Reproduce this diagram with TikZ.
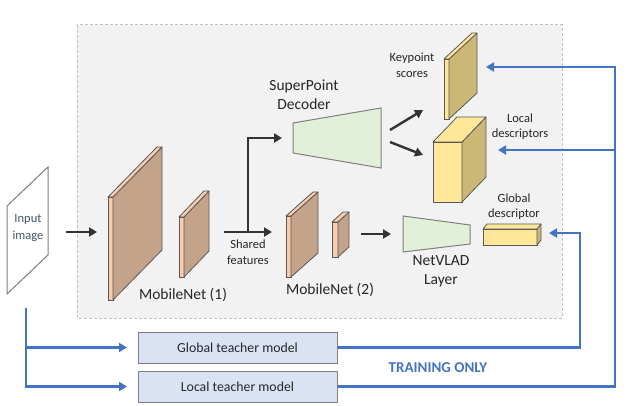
\documentclass[tikz,border=0pt]{standalone}
\usepackage{fontspec}
\setmainfont{Carlito}
\usetikzlibrary{arrows.meta,calc}
\definecolor{pinkf}{HTML}{F8CBAD}
\definecolor{brownside}{HTML}{C4A38B}
\definecolor{yelf}{HTML}{FFE699}
\definecolor{yelside}{HTML}{CBB877}
\definecolor{edgegray}{HTML}{595959}
\definecolor{greenf}{HTML}{E2F0D9}
\definecolor{trapedge}{HTML}{7F7F7F}
\definecolor{panelfill}{HTML}{F2F2F2}
\definecolor{paneledge}{HTML}{BFBFBF}
\definecolor{arrowgray}{HTML}{333333}
\definecolor{tblue}{HTML}{4472C4}
\definecolor{tbox}{HTML}{DAE3F3}
\definecolor{txt}{HTML}{262626}
\definecolor{inputtxt}{HTML}{44546A}
\newcommand\slabshape[9]{%
  \node[slabfront, fill=#8, minimum width=#4pt, minimum height=#5pt, anchor=north west] (#1) at (#2,#3) {};
  \filldraw[facedraw, fill=#9] (#1.north east) -- ++(#6,#7) -- ($(#1.south east)+(#6,#7)$) -- (#1.south east) -- cycle;
  \filldraw[facedraw, fill=#8] (#1.north west) -- ++(#6,#7) -- ($(#1.north east)+(#6,#7)$) -- (#1.north east) -- cycle;
}
\tikzset{
  slabfront/.style={draw=edgegray, line width=0.8pt, inner sep=0pt, outer sep=0pt},
  facedraw/.style={draw=edgegray, line width=0.8pt, line join=round},
  bigtxt/.style={text=txt, font=\fontsize{15.5}{19}\selectfont, align=center, inner sep=0pt},
  smalltxt/.style={text=txt, font=\fontsize{12.5}{15.5}\selectfont, align=center, inner sep=0pt},
  darrow/.style={draw=arrowgray, line width=2.4pt, -{Triangle[length=8pt,width=9pt]}},
  blueline/.style={draw=tblue, line width=2.4pt},
  bluearrow/.style={blueline, -{Triangle[length=8pt,width=9pt]}},
  teacher/.style={draw=trapedge, fill=tbox, line width=1pt, minimum width=199pt, minimum height=31pt, inner sep=0pt, text=txt, font=\fontsize{13.8}{16}\selectfont},
}
\begin{document}
\begin{tikzpicture}[x=1pt,y=-1pt]
\useasboundingbox (0,0) rectangle (640,406);
% panel
\draw[draw=paneledge, fill=panelfill, line width=1pt, dash pattern=on 3pt off 2pt] (77,25) rectangle (562,318);
% input image
\filldraw[draw=trapedge, fill=white, line width=1pt] (7,294) -- (7,206) -- (48,167) -- (48,255) -- cycle;
\node[text=inputtxt, font=\fontsize{12.5}{17}\selectfont, align=center, inner sep=0pt] (input) at (28,228) {Input\\image};
% MobileNet (1)
\slabshape{mna}{108}{197}{5}{103}{49}{-50}{pinkf}{brownside}
\slabshape{mnb}{179}{217}{5}{60}{25}{-26}{pinkf}{brownside}
\node[bigtxt] (mn1lab) at (183,295) {MobileNet (1)};
% MobileNet (2)
\slabshape{mnc}{286}{216}{5}{61}{27}{-24}{pinkf}{brownside}
\slabshape{mnd}{332}{222}{6}{35}{11}{-10}{pinkf}{brownside}
\node[bigtxt] (mn2lab) at (330,290) {MobileNet (2)};
% outputs
\slabshape{kp}{444}{59}{5}{60}{28}{-26}{yelf}{yelside}
\slabshape{ld}{433}{142}{29}{60}{24}{-25}{yelf}{yelside}
\slabshape{gd}{483}{229}{54}{16}{4}{-5}{yelf}{yelside}
\node[smalltxt] (kplab) at (412,65) {Keypoint\\scores};
\node[smalltxt] (ldlab) at (520,126.5) {Local\\descriptors};
\node[smalltxt] (gdlab) at (514,206.5) {Global\\descriptor};
% SuperPoint decoder
\filldraw[draw=trapedge, fill=greenf, line width=1pt] (293,123) -- (381,108) -- (381,168) -- (293,153) -- cycle;
\node[bigtxt] (splab) at (304,94.5) {SuperPoint\\Decoder};
% NetVLAD
\filldraw[draw=trapedge, fill=greenf, line width=1pt] (403,216) -- (470,225) -- (470,244) -- (403,252) -- cycle;
\node[bigtxt] (nvlab) at (441,271.5) {NetVLAD\\Layer};
% shared features
\node[smalltxt] (sflab) at (248,252) {Shared\\features};
% dark arrows
\coordinate (ia) at (66,232); \coordinate (ib) at (97,232);
\draw[darrow] (ia) -- (ib);
\coordinate (sfa) at (224,232); \coordinate (sfb) at (272,232);
\draw[darrow] (sfa) -- (sfb);
\coordinate (sfv) at (248,232); \coordinate (sdin) at (282,138);
\draw[darrow] (sfv) |- (sdin);
\coordinate (d1s) at (390,130); \coordinate (d1e) at (423,110);
\draw[darrow] (d1s) -- (d1e);
\coordinate (d2s) at (390,142); \coordinate (d2e) at (423,155);
\draw[darrow] (d2s) -- (d2e);
\coordinate (m2s) at (361,234); \coordinate (m2e) at (391,234);
\draw[darrow] (m2s) -- (m2e);
% teacher models
\node[teacher] (gt) at (237.5,347.5) {Global teacher model};
\node[teacher] (lt) at (237.5,386.5) {Local teacher model};
\node[text=tblue, font=\fontsize{15}{17}\selectfont\bfseries, inner sep=0pt] (train) at (438,368) {TRAINING ONLY};
% blue lines
\coordinate (ltop) at (26,308);
\coordinate (gtip) at (127,347.5);
\coordinate (ltip) at (127,386.5);
\draw[bluearrow] (ltop) |- (ltip);
\draw[bluearrow] (ltop |- gtip) -- (gtip);
\coordinate (gcorner) at (580,233); \coordinate (gdin) at (549,233);
\draw[bluearrow] (gt.east) -| (gcorner) -- (gdin);
\coordinate (kcorner) at (615,67); \coordinate (kin) at (486,67);
\draw[bluearrow] (lt.east) -| (kcorner) -- (kin);
\coordinate (lbranch) at (615,150); \coordinate (lin) at (498,150);
\draw[bluearrow] (lbranch) -- (lin);
\end{tikzpicture}
\end{document}
